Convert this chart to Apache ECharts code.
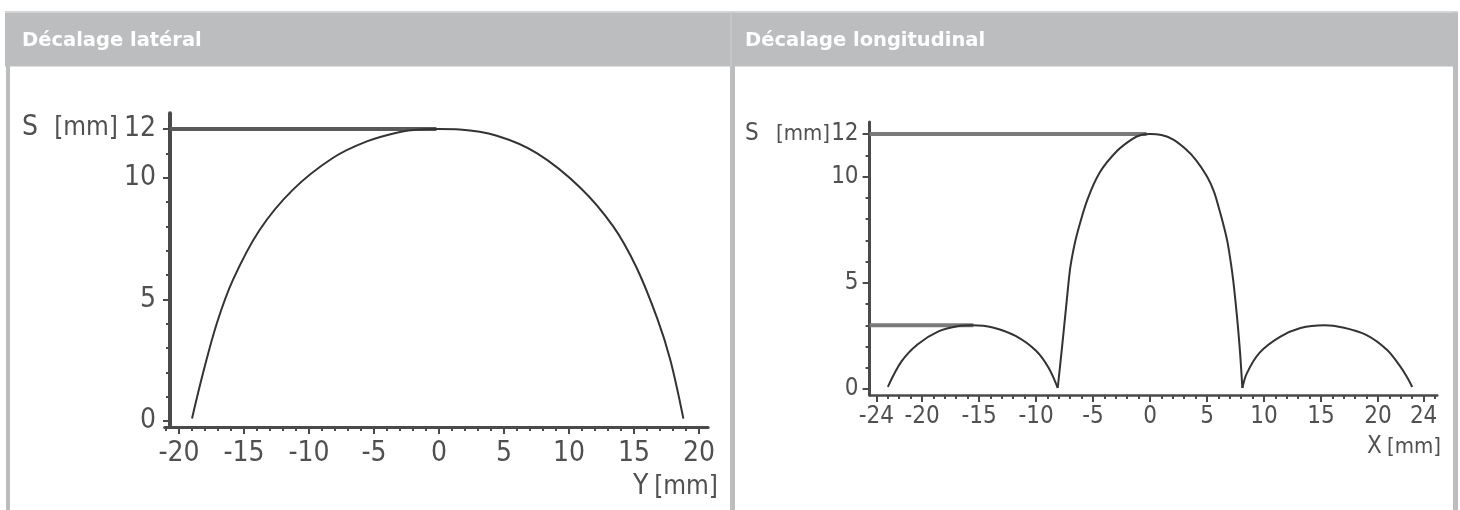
<!DOCTYPE html>
<html><head><meta charset="utf-8">
<script src="https://cdn.jsdelivr.net/npm/echarts@6/dist/echarts.min.js"></script>
<style>html,body{margin:0;padding:0;background:#fff}#c{width:1460px;height:510px}</style>
</head><body><div id="c"></div>
<script>
// ---- data ----
const panelTitles = ['Décalage latéral', 'Décalage longitudinal'];

// Lateral offset curve: Y [mm] -> S [mm]
const lateralY = [-19.0, -18.15, -17.1, -15.85, -13.8, -11.25, -8.2, -5.5, -3.0, -1.5, 0, 1.6, 4.45, 7.55, 10.85, 13.4, 15.2, 16.8, 17.8, 18.8];
const lateralS = [0.1, 1.97, 4.0, 5.8, 7.85, 9.5, 10.8, 11.5, 11.88, 11.98, 12.0, 11.98, 11.72, 11.0, 9.6, 8.0, 6.3, 4.2, 2.5, 0.1];
const lateralRefY = [-20.7, -0.2];
const lateralRefS = [12, 12];

// Longitudinal offset curve: X [mm] -> S [mm], three lobes
const longLeftX = [-23.0, -21.8, -20.4, -18.6, -16.9, -15.6, -13.8, -11.8, -10.0, -8.9, -8.1];
const longLeftS = [0.1, 1.3, 2.1, 2.7, 2.95, 3.0, 2.9, 2.5, 1.8, 1.0, 0.05];
const longMainX = [-8.1, -7.85, -7.6, -7.3, -7.0, -6.7, -6.4, -5.5, -4.4, -2.9, -1.6, -0.8, 0, 1.0, 2.0, 3.0, 4.0, 5.0, 5.6, 6.1, 6.5, 6.8, 7.1, 7.3, 7.5, 7.7, 7.9, 8.1];
const longMainS = [0.05, 1.3, 2.6, 4.2, 5.7, 6.6, 7.3, 8.9, 10.2, 11.2, 11.75, 11.95, 12.0, 11.95, 11.75, 11.35, 10.8, 10.0, 9.3, 8.4, 7.6, 6.9, 5.9, 5.1, 4.1, 3.0, 1.7, 0.05];
const longRightX = [8.1, 8.5, 9.6, 11.4, 13.2, 15.3, 16.9, 19.0, 20.8, 21.9, 22.5, 23.0];
const longRightS = [0.05, 0.75, 1.7, 2.45, 2.87, 3.0, 2.9, 2.54, 1.84, 1.1, 0.6, 0.1];
const longRef12X = [-24.6, -0.3];
const longRef12S = [12, 12];
const longRef3X = [-24.6, -15.5];
const longRef3S = [3, 3];

// tick labels
const lateralXLabels = [-20, -15, -10, -5, 0, 5, 10, 15, 20];
const longXLabels = [-24, -20, -15, -10, -5, 0, 5, 10, 15, 20, 24];
const sLabels = [0, 5, 10, 12];
const lateralMinorX = [-21,-20,-19,-18,-17,-16,-15,-14,-13,-12,-11,-10,-9,-8,-7,-6,-5,-4,-3,-2,-1,0,1,2,3,4,5,6,7,8,9,10,11,12,13,14,15,16,17,18,19,20];
const longMinorX = [-24,-23,-22,-21,-20,-19,-18,-17,-16,-15,-14,-13,-12,-11,-10,-9,-8,-7,-6,-5,-4,-3,-2,-1,0,1,2,3,4,5,6,7,8,9,10,11,12,13,14,15,16,17,18,19,20,21,22,23,24,25];
const sMinor = [0,1,2,3,4,5,6,7,8,9,10,11,12];

// ---- chart ----
const zip = (a, b) => a.map((v, i) => [v, b[i]]);
const axisFont = "'Liberation Sans Narrow','DejaVu Sans Condensed',sans-serif";
const ink = '#4a4a4a';
const labelColor = '#505050';
const headerGray = '#bcbdbf';

function xMajor(grid, min, max, labels, fs, lw, margin) {
  return {
    type: 'value', gridIndex: grid, min: min, max: max, position: 'bottom',
    axisLine: { show: true, onZero: false, lineStyle: { color: ink, width: lw } },
    axisTick: { show: true, customValues: labels, length: 7, lineStyle: { color: ink, width: 2 } },
    axisLabel: { show: true, customValues: labels, margin: margin, fontSize: fs, color: labelColor, fontFamily: axisFont },
    splitLine: { show: false }
  };
}
function xMinor(grid, min, max, ticks) {
  return {
    type: 'value', gridIndex: grid, min: min, max: max, position: 'bottom',
    axisLine: { show: false, onZero: false },
    axisTick: { show: true, customValues: ticks, length: 4, lineStyle: { color: ink, width: 2 } },
    axisLabel: { show: false }, splitLine: { show: false }
  };
}
function yMajor(grid, min, max, offset, fs, lw, margin) {
  return {
    type: 'value', gridIndex: grid, min: min, max: max, position: 'left', offset: offset,
    axisLine: { show: true, onZero: false, lineStyle: { color: ink, width: lw } },
    axisTick: { show: true, customValues: sLabels, length: 7, lineStyle: { color: ink, width: 2 } },
    axisLabel: { show: true, customValues: sLabels, margin: margin, fontSize: fs, color: labelColor, fontFamily: axisFont },
    splitLine: { show: false }
  };
}
function yMinor(grid, min, max, offset) {
  return {
    type: 'value', gridIndex: grid, min: min, max: max, position: 'left', offset: offset,
    axisLine: { show: false, onZero: false },
    axisTick: { show: true, customValues: sMinor, length: 4, lineStyle: { color: ink, width: 2 } },
    axisLabel: { show: false }, splitLine: { show: false }
  };
}
function curve(xi, yi, data) {
  return { type: 'line', xAxisIndex: xi, yAxisIndex: yi, data: data, showSymbol: false, symbol: 'none',
    smooth: 0.35, silent: true, lineStyle: { color: '#333333', width: 2 } };
}
function refLine(xi, yi, data, color) {
  return { type: 'line', xAxisIndex: xi, yAxisIndex: yi, data: data, showSymbol: false, symbol: 'none',
    silent: true, lineStyle: { color: color, width: 4 } };
}
function txt(x, y, text, size, align, color, weight, family) {
  return { type: 'text', x: x, y: y, silent: true, z: 10,
    style: { text: text, fontSize: size, fontFamily: family || axisFont, fontWeight: weight || 'normal',
      fill: color || labelColor, align: align || 'left', verticalAlign: 'middle' } };
}

const option = {
  animation: false,
  backgroundColor: '#ffffff',
  grid: [
    { left: 164.7, top: 113.2, width: 543.4, height: 313.9, containLabel: false },
    { left: 869.6, top: 122.1, width: 567.7, height: 272.9, containLabel: false }
  ],
  xAxis: [
    xMajor(0, -21.1, 20.7, lateralXLabels, 28, 3, 13),
    xMinor(0, -21.1, 20.7, lateralMinorX),
    xMajor(1, -24.6, 25.2, longXLabels, 24, 2.5, 10),
    xMinor(1, -24.6, 25.2, longMinorX)
  ],
  yAxis: [
    yMajor(0, -0.25, 12.65, -5.3, 28, 4, 14),
    yMinor(0, -0.25, 12.65, -5.3),
    yMajor(1, -0.28, 12.56, 0, 24, 3, 11),
    yMinor(1, -0.28, 12.56, 0)
  ],
  series: [
    refLine(0, 0, zip(lateralRefY, lateralRefS), '#5a5a5a'),
    curve(0, 0, zip(lateralY, lateralS)),
    refLine(2, 2, zip(longRef12X, longRef12S), '#7a7a7a'),
    refLine(2, 2, zip(longRef3X, longRef3S), '#7a7a7a'),
    curve(2, 2, zip(longLeftX, longLeftS)),
    curve(2, 2, zip(longMainX, longMainS)),
    curve(2, 2, zip(longRightX, longRightS))
  ],
  graphic: [
    { type: 'rect', silent: true, z: -1, shape: { x: 5, y: 11, width: 1453, height: 1.5 }, style: { fill: '#d6d6d6' } },
    { type: 'rect', silent: true, z: -1, shape: { x: 5, y: 12.5, width: 1453, height: 54 }, style: { fill: headerGray } },
    { type: 'rect', silent: true, z: -1, shape: { x: 6, y: 66, width: 4, height: 444 }, style: { fill: headerGray } },
    { type: 'rect', silent: true, z: -1, shape: { x: 730, y: 12.5, width: 5, height: 498 }, style: { fill: headerGray } },
    { type: 'rect', silent: true, z: -1, shape: { x: 730.5, y: 12.5, width: 1, height: 54 }, style: { fill: '#cfd0d2' } },
    { type: 'rect', silent: true, z: -1, shape: { x: 1453, y: 12.5, width: 5, height: 498 }, style: { fill: headerGray } },
    txt(22, 40.5, panelTitles[0], 19.5, 'left', '#ffffff', 'bold', "'DejaVu Sans',Verdana,sans-serif"),
    txt(745, 40.5, panelTitles[1], 19.5, 'left', '#ffffff', 'bold', "'DejaVu Sans',Verdana,sans-serif"),
    txt(22, 128, 'S', 28, 'left'),
    txt(118, 128, '[mm]', 26, 'right'),
    txt(633, 487, 'Y', 28, 'left'),
    txt(718, 487, '[mm]', 26, 'right'),
    txt(745, 134, 'S', 24, 'left'),
    txt(830, 134, '[mm]', 22, 'right'),
    txt(1367, 447, 'X', 24, 'left'),
    txt(1441, 447, '[mm]', 22, 'right')
  ]
};
const chart = echarts.init(document.getElementById('c'));
chart.setOption(option);
</script>
</body></html>
